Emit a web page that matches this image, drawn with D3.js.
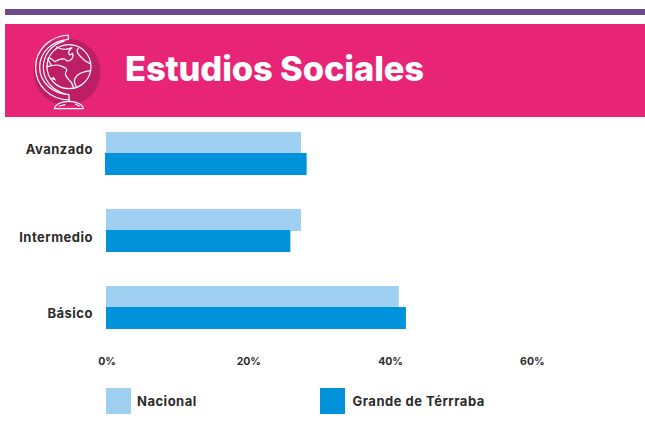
<!DOCTYPE html>
<html><head><meta charset="utf-8">
<script src="https://cdn.jsdelivr.net/npm/d3@7"></script>
<style>html,body{margin:0;padding:0;background:#fff}svg{display:block}text{font-family:Inter,"Open Sans",sans-serif}</style>
</head><body><svg id="c" width="645" height="423"></svg>
<script>
const categories = ["Avanzado","Intermedio","Básico"];
const seriesNames = ["Nacional","Grande de Térrraba"];
const nacional = [27.5,27.5,41.3];
const grande = [28.3,26,42.3];
const ticks = [0,20,40,60];
const title = "Estudios Sociales";
const colors = ["#A0D0F1","#0093DB"];
const labelShift = [-3.5,7,6.5];

const svg = d3.select("#c");
svg.append("rect").attr("x",5).attr("y",9).attr("width",640).attr("height",6).attr("fill","#6C4A8E");
svg.append("rect").attr("x",5).attr("y",24).attr("width",640).attr("height",93).attr("fill","#E82477");

// icon (drawn in a 3x grid, then scaled down)
svg.append("circle").attr("cx",67).attr("cy",72).attr("r",33.5).attr("fill","#BC1F66");
const ic = svg.append("g").attr("transform","scale(0.3333)").attr("fill","none").attr("stroke","#fff").attr("stroke-width",3.6).attr("stroke-linejoin","round").attr("stroke-linecap","round");
ic.append("circle").attr("cx",207).attr("cy",200).attr("r",66);
ic.append("path").attr("d","M205 105 C150 108 107 150 107 202 C107 258 150 298 207 300 L207 284 C160 282 119 248 119 202 C119 156 156 122 205 118 Z");
ic.append("path").attr("d","M192 124 C155 132 130 165 130 202 C130 240 155 270 196 282");
ic.append("path").attr("d","M209 300 L209 306 M163 326 C166 312 186 304 207 304 C228 304 248 312 250 326 Z M178 318 L195 314 M226 312 L238 318");
ic.append("path").attr("d","M170 141 C182 148 200 150 216 143 C205 152 203 160 210 165 L218 160 C222 175 210 186 200 182 C190 170 175 180 165 185 C155 178 150 170 143 178 C148 185 150 190 155 197");
ic.append("path").attr("d","M141 200 C155 196 170 192 180 197 C192 202 203 205 200 212 C190 222 200 230 207 240 C214 245 218 252 220 262");
ic.append("path").attr("d","M235 145 C228 152 232 160 240 168 C248 176 255 186 270 190");
ic.append("path").attr("d","M272 212 C255 214 240 218 230 228 C220 238 222 250 230 262");
ic.append("path").attr("d","M155 235 L162 238 M160 232 L166 240");

const x = d3.scaleLinear().domain([0,60]).range([106,531.4]);
const y = d3.scaleBand().domain(categories).range([132,329]).paddingInner(34/77).paddingOuter(0);
const s = d3.scaleBand().domain(seriesNames).range([0,y.bandwidth()]);

const g = svg.append("g").selectAll("g").data(categories).join("g").attr("transform",d=>`translate(0,${y(d)})`);
[nacional,grande].forEach((vals,si)=>{
  g.append("rect")
   .attr("x",(d,i)=>x(0)-(si===1&&i===0?1:0))
   .attr("y",Math.floor(s(seriesNames[si])))
   .attr("width",(d,i)=>x(vals[i])-x(0)+(si===1&&i===0?1:0))
   .attr("height",Math.ceil(s.bandwidth()))
   .attr("fill",colors[si]);
});

const yAxis = svg.append("g").attr("transform","translate(93,0)").call(d3.axisLeft(y).tickSize(0).tickPadding(0));
yAxis.select(".domain").remove();
yAxis.selectAll("text").attr("font-size",13).attr("font-weight",700).attr("fill","#2b2b2b").attr("letter-spacing",0.5)
  .attr("transform",(d,i)=>`translate(0,${labelShift[i]})`).attr("dy","0.32em");

const xAxis = svg.append("g").attr("transform","translate(0.5,358)").call(d3.axisBottom(x).tickValues(ticks).tickFormat(d=>d+"%").tickSize(0).tickPadding(0));
xAxis.select(".domain").remove();
xAxis.selectAll("text").attr("font-size",10.5).attr("font-weight",700).attr("fill","#2b2b2b");

const lg = svg.append("g").selectAll("g").data(seriesNames).join("g").attr("transform",(d,i)=>`translate(${[106,320][i]},388)`);
lg.append("rect").attr("width",25).attr("height",26).attr("fill",(d,i)=>colors[i]);
lg.append("text").attr("x",(d,i)=>[31,32.5][i]).attr("y",18).attr("font-size",13).attr("font-weight",700).attr("letter-spacing",0.5).attr("fill","#2b2b2b").text(d=>d);

svg.append("text").attr("x",125).attr("y",80.5).attr("font-size",34.5).attr("font-weight",800).attr("letter-spacing",-0.14).attr("fill","#fff").text(title);
</script></body></html>
